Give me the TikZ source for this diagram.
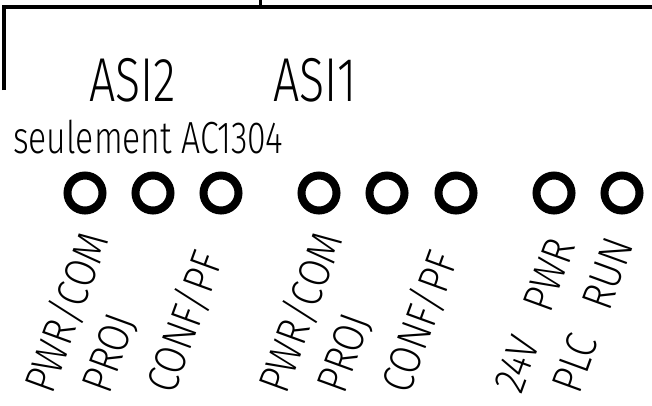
\documentclass[tikz,border=0pt]{standalone}
\usepackage{fontspec}
\setmainfont{Fira Sans Light}[FakeStretch=0.75]
\newfontfamily\ledfont{Fira Sans Light}[FakeStretch=0.85]
\tikzset{
  led/.style={draw, circle, line width=8pt, minimum size=35pt, inner sep=0pt},
  ledlabel/.style={anchor=base west, inner sep=0pt, rotate=70, font=\ledfont\fontsize{44}{48}\selectfont},
  group/.style={anchor=base west, inner sep=0pt, font=\fontsize{62}{70}\selectfont}
}
\begin{document}
\begin{tikzpicture}[x=1pt,y=1pt]
                \useasboundingbox (0,0) rectangle (652,-405);
                % cadre
                \draw[line width=3.5pt] (4,-90) -- (4,-7) -- (652,-7);
                \draw[line width=3pt] (260,0) -- (260,-7);

                \node[group] (asi2) at (89,-101) {ASI2};
                \node[group] (asi1) at (273,-101) {ASI1};
                \node[anchor=base west, inner sep=0pt, font=\fontsize{45}{50}\selectfont] (seul) at (13,-153) {seulement AC1304};

                % LEDs
                \node[led] (b1) at (85,-193) {};
                \node[led] (b2) at (153,-193) {};
                \node[led] (b3) at (221,-193) {};
                \node[led] (a1) at (319,-193) {};
                \node[led] (a2) at (387,-193) {};
                \node[led] (a3) at (456,-193) {};
                \node[led] (pwr) at (554,-193) {};
                \node[led] (run) at (622,-193) {};

                \node[ledlabel] (lb1) at (52,-396) {PWR/COM};
                \node[ledlabel] (lb2) at (109,-396) {PROJ};
                \node[ledlabel] (lb3) at (174,-396) {CONF/PF};
                \node[ledlabel] (la1) at (286,-396) {PWR/COM};
                \node[ledlabel] (la2) at (344,-396) {PROJ};
                \node[ledlabel] (la3) at (409,-396) {CONF/PF};
                \node[ledlabel] (lpwr) at (521,-396) {24V\hspace{0.7em}PWR};
                \node[ledlabel] (lrun) at (579,-396) {PLC\hspace{0.7em}RUN};
\end{tikzpicture}
\end{document}
